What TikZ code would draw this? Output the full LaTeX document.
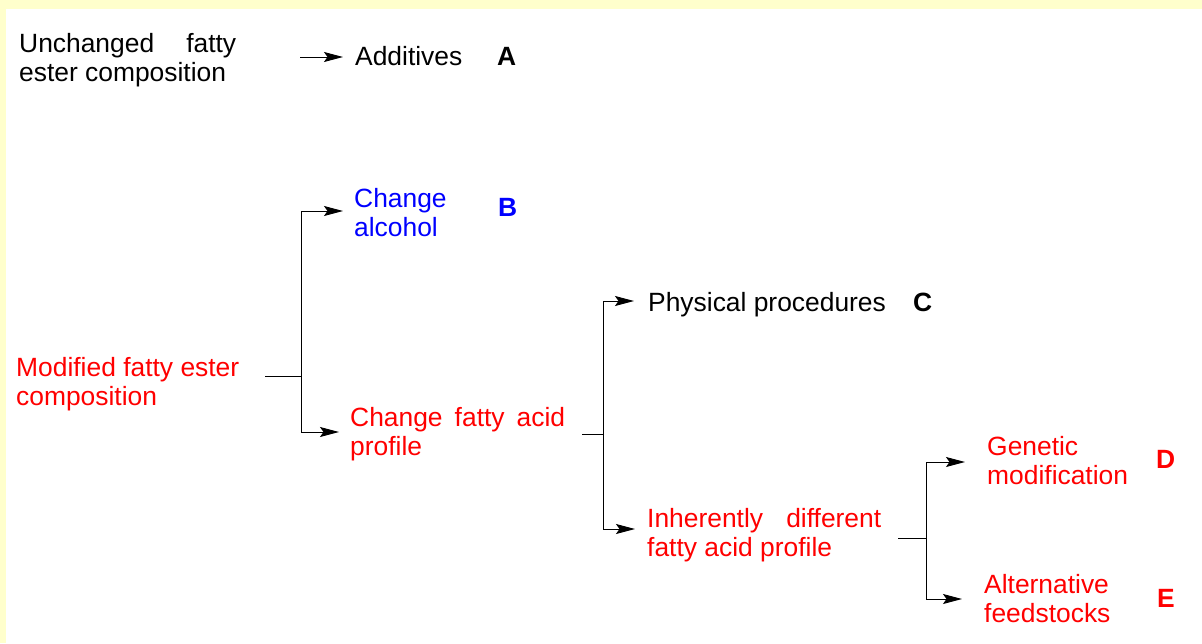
\documentclass[tikz,border=0pt]{standalone}
\usepackage{fontspec}
\setmainfont{Liberation Sans}
\usetikzlibrary{arrows.meta}
\definecolor{bgyellow}{HTML}{FFFFCC}
\definecolor{tred}{HTML}{FF0000}
\definecolor{tblue}{HTML}{0000FF}
\newcommand{\mlines}[1]{\begin{tabular}[t]{@{}l@{}}#1\end{tabular}}
\begin{document}
\begin{tikzpicture}[x=1pt,y=-1pt,
  lbl/.style={anchor=base west, inner sep=0pt, font=\fontsize{26.4}{29.5}\selectfont},
  tag/.style={anchor=base west, inner sep=0pt, font=\fontsize{26.4}{29.5}\selectfont\bfseries},
  conn/.style={line width=1pt, draw=black},
  arr/.style={conn, -{Stealth[length=19pt,width=10pt,inset=3.5pt]}}]
\useasboundingbox (0,0) rectangle (1202,643);
\fill[white] (0,0) rectangle (1202,643);
\fill[bgyellow] (0,0) rectangle (1202,9);
\fill[bgyellow] (0,0) rectangle (6,643);

% texts
\node[lbl] (unch) at (19,52) {\mlines{\makebox[217pt][s]{Unchanged fatty}\\ester composition}};
\node[lbl] (add) at (355,65) {Additives};
\node[tag] (tagA) at (497,65) {A};

\node[lbl, text=tred] (mod) at (16,376) {\mlines{Modified fatty ester\\composition}};
\node[lbl, text=tblue] (alc) at (354,207) {\mlines{Change\\alcohol}};
\node[tag, text=tblue] (tagB) at (498,216) {B};
\node[lbl, text=tred] (fap) at (350,426) {\mlines{\makebox[215pt][s]{Change fatty acid}\\profile}};

\node[lbl] (phys) at (648,311) {Physical procedures};
\node[tag] (tagC) at (913,311) {C};
\node[lbl, text=tred] (inh) at (647,527) {\mlines{\makebox[234pt][s]{Inherently different}\\fatty acid profile}};

\node[lbl, text=tred] (gen) at (987,455) {\mlines{Genetic\\modification}};
\node[tag, text=tred] (tagD) at (1156,468) {D};
\node[lbl, text=tred] (alt) at (984,593) {\mlines{Alternative\\feedstocks}};
\node[tag, text=tred] (tagE) at (1157,607) {E};

% connector points
\coordinate (a0) at (300,57);
\coordinate (a1) at (343,57);

\coordinate (s1) at (265,376);
\coordinate (j1) at (301,376);
\coordinate (tB) at (343,211);
\coordinate (tF) at (339,432);

\coordinate (s2) at (582,434);
\coordinate (j2) at (603,434);
\coordinate (tP) at (634,301);
\coordinate (tI) at (635,529);

\coordinate (s3) at (898,538);
\coordinate (j3) at (926,538);
\coordinate (tG) at (965,462);
\coordinate (tA) at (962,599);

% connectors
\draw[arr] (a0) -- (a1);

\draw[conn] (s1) -- (j1);
\draw[arr] (j1) |- (tB);
\draw[arr] (j1) |- (tF);

\draw[conn] (s2) -- (j2);
\draw[arr] (j2) |- (tP);
\draw[arr] (j2) |- (tI);

\draw[conn] (s3) -- (j3);
\draw[arr] (j3) |- (tG);
\draw[arr] (j3) |- (tA);
\end{tikzpicture}
\end{document}
